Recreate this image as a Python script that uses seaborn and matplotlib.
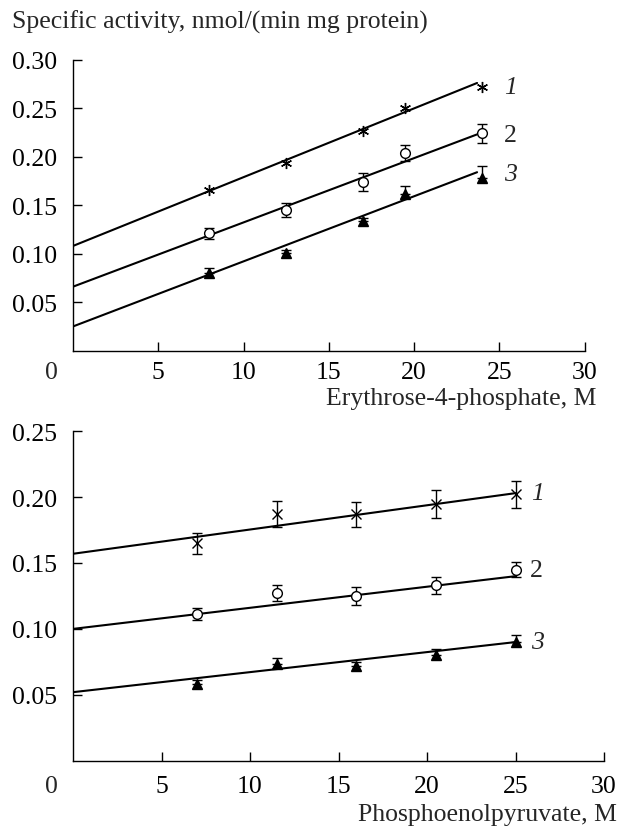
import numpy as np
import seaborn as sns
import matplotlib.pyplot as plt

# top panel: erythrose-4-phosphate
e4p_x = [8, 12.5, 17, 19.5, 24]
e4p_y1 = [0.166, 0.194, 0.226, 0.250, 0.272]
e4p_y2 = [0.121, 0.145, 0.174, 0.204, 0.224]
e4p_err2 = [0.006, 0.007, 0.009, 0.008, 0.010]
e4p_y3 = [0.080, 0.101, 0.134, 0.162, 0.178]
e4p_err3 = [0.005, 0.003, 0.003, 0.008, 0.012]
# fitted lines (end points)
e4p_fit_x = [0, 23.7]
e4p_fit1 = [0.108, 0.276]
e4p_fit2 = [0.066, 0.223]
e4p_fit3 = [0.025, 0.184]

# bottom panel: phosphoenolpyruvate
pep_x = [7, 11.5, 16, 20.5, 25]
pep_y1 = [0.165, 0.187, 0.187, 0.195, 0.202]
pep_err1 = [0.008, 0.010, 0.0095, 0.0105, 0.0105]
pep_y2 = [0.111, 0.127, 0.125, 0.133, 0.145]
pep_err2 = [0.0045, 0.006, 0.0067, 0.0066, 0.0055]
pep_y3 = [0.058, 0.073, 0.072, 0.080, 0.090]
pep_err3 = [0.003, 0.005, 0.003, 0.005, 0.005]
pep_fit_x = [0, 25]
pep_fit1 = [0.157, 0.203]
pep_fit2 = [0.100, 0.140]
pep_fit3 = [0.052, 0.090]

sns.set_theme(style="ticks")
plt.rcParams['font.family'] = ['Liberation Serif', 'DejaVu Serif']
FS = 18.5

fig = plt.figure(figsize=(6.21, 8.29), dpi=100)
W, H = 621.0, 829.0
ax1 = fig.add_axes([73/W, (H-351.7)/H, (584.5-73)/W, 291/H])
ax2 = fig.add_axes([73/W, (H-761.7)/H, (604-73)/W, 329.5/H])


def draw_series(ax, x, y, err, marker, ms, mfc, up_only=False):
    if err is not None:
        yerr = [np.zeros(len(err)), err] if up_only else err
        ax.errorbar(x, y, yerr=yerr, fmt='none', ecolor='black',
                    elinewidth=1.0, capsize=3.5, capthick=1.0, zorder=3,
                    clip_on=False)
    ax.plot(x, y, linestyle='none', marker=marker, ms=ms, mfc=mfc,
            mec='black', mew=1.0, zorder=4, clip_on=False)


def style_axes(ax, ymax, xpad, origin_dy):
    ax.set_xlim(0, 30)
    ax.set_ylim(0, ymax)
    ax.set_xticks([5, 10, 15, 20, 25, 30])
    yt = np.arange(0.05, ymax + 0.001, 0.05)
    ax.set_yticks(yt)
    ax.set_yticklabels(['%.2f' % v for v in yt])
    sns.despine(ax=ax)
    for s in ['left', 'bottom']:
        ax.spines[s].set_linewidth(1.0)
        ax.spines[s].set_color('black')
    ax.tick_params(axis='both', direction='in', length=6.5, width=1.0,
                   colors='black', labelsize=FS)
    ax.tick_params(axis='y', pad=11.5)
    ax.tick_params(axis='x', pad=xpad)
    ax.set_xlabel('')
    ax.set_ylabel('')
    ax.annotate('0', xy=(0, 0), xycoords='data', xytext=(-15.5, origin_dy),
                textcoords='offset points', ha='center', va='center',
                fontsize=FS, annotation_clip=False)


# top panel
for fy in [e4p_fit1, e4p_fit2, e4p_fit3]:
    sns.lineplot(x=e4p_fit_x, y=fy, color='black', linewidth=1.5, ax=ax1)
draw_series(ax1, e4p_x, e4p_y1, None, (6, 2, 0), 8, 'black')
draw_series(ax1, e4p_x, e4p_y2, e4p_err2, 'o', 7, 'white')
draw_series(ax1, e4p_x, e4p_y3, e4p_err3, '^', 7.5, 'black', up_only=True)
style_axes(ax1, 0.30, 7.5, -15)
ax1.text(25.3, 0.272, '1', fontsize=FS, style='italic', va='center')
ax1.text(25.3, 0.222, '2', fontsize=FS, va='center')
ax1.text(25.3, 0.182, '3', fontsize=FS, style='italic', va='center')

# bottom panel
for fy in [pep_fit1, pep_fit2, pep_fit3]:
    sns.lineplot(x=pep_fit_x, y=fy, color='black', linewidth=1.5, ax=ax2)
draw_series(ax2, pep_x, pep_y1, pep_err1, 'x', 7, 'black')
draw_series(ax2, pep_x, pep_y2, pep_err2, 'o', 7, 'white')
draw_series(ax2, pep_x, pep_y3, pep_err3, '^', 7.5, 'black', up_only=True)
style_axes(ax2, 0.25, 10.5, -18.5)
ax2.text(25.9, 0.203, '1', fontsize=FS, style='italic', va='center')
ax2.text(25.8, 0.145, '2', fontsize=FS, va='center')
ax2.text(25.9, 0.090, '3', fontsize=FS, style='italic', va='center')

fig.text(12/W, 1 - 22/H, 'Specific activity, nmol/(min mg protein)',
         fontsize=FS, ha='left', va='center')
fig.text(596/W, 1 - 399/H, 'Erythrose-4-phosphate, M',
         fontsize=FS, ha='right', va='center')
fig.text(617/W, 1 - 815/H, 'Phosphoenolpyruvate, M',
         fontsize=FS, ha='right', va='center')

fig.savefig('out.png', dpi=100)
